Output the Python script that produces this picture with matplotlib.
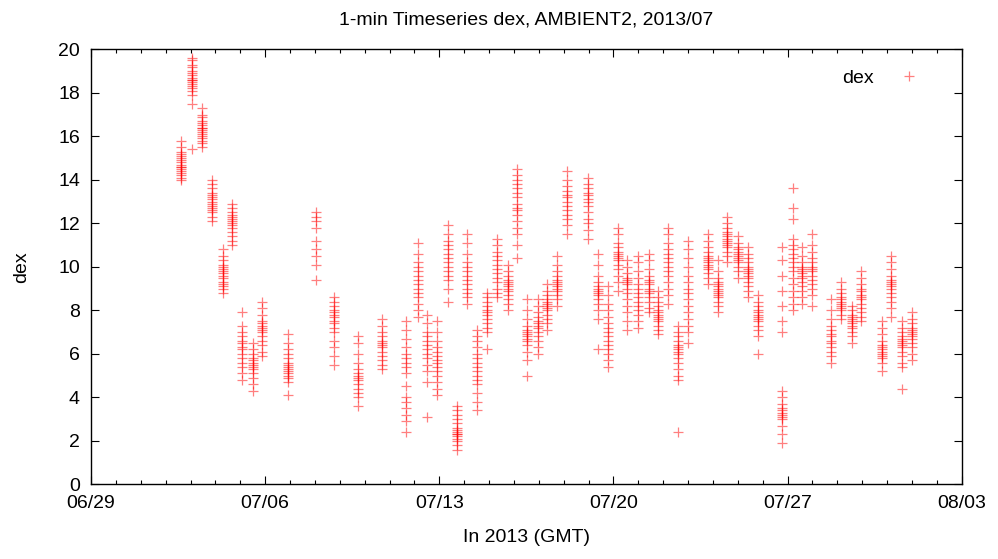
import matplotlib
matplotlib.use("Agg")
import matplotlib.pyplot as plt
import matplotlib.dates as mdates
import numpy as np
import pandas as pd

plt.rcParams['font.family'] = ['Liberation Sans', 'DejaVu Sans']

# start time (GMT) of each 1-min observation block
cluster_times = [
    "2013-07-02 15:00", "2013-07-03 01:00", "2013-07-03 11:00", "2013-07-03 21:00",
    "2013-07-04 07:00", "2013-07-04 16:00", "2013-07-05 02:00", "2013-07-05 12:00",
    "2013-07-05 21:00", "2013-07-06 22:00", "2013-07-08 01:00", "2013-07-08 18:00",
    "2013-07-09 18:00", "2013-07-10 17:00", "2013-07-11 16:00", "2013-07-12 03:00",
    "2013-07-12 12:00", "2013-07-12 22:00", "2013-07-13 08:00", "2013-07-13 17:00",
    "2013-07-14 03:00", "2013-07-14 12:00", "2013-07-14 22:00", "2013-07-15 08:00",
    "2013-07-15 18:00", "2013-07-16 03:00", "2013-07-16 13:00", "2013-07-16 23:00",
    "2013-07-17 08:00", "2013-07-17 18:00", "2013-07-18 03:00", "2013-07-18 23:00",
    "2013-07-19 09:00", "2013-07-19 19:00", "2013-07-20 04:00", "2013-07-20 13:00",
    "2013-07-21 00:00", "2013-07-21 10:00", "2013-07-21 19:00", "2013-07-22 05:00",
    "2013-07-22 14:00", "2013-07-23 00:00", "2013-07-23 19:00", "2013-07-24 05:00",
    "2013-07-24 14:00", "2013-07-25 00:00", "2013-07-25 10:00", "2013-07-25 19:00",
    "2013-07-26 19:00", "2013-07-27 05:00", "2013-07-27 14:00", "2013-07-28 00:00",
    "2013-07-28 18:00", "2013-07-29 04:00", "2013-07-29 14:00", "2013-07-29 23:00",
    "2013-07-30 19:00", "2013-07-31 04:00", "2013-07-31 14:00", "2013-08-01 00:00",
]

# dex values of each block
cluster_values = [
    [15.8, 15.5, 15.3, 15.2, 15.1, 15.0, 14.9, 14.8, 14.7, 14.6, 14.6, 14.5, 14.4, 14.3, 14.2, 14.1, 14.0],
    [19.6, 19.5, 19.3, 19.2, 19.0, 18.9, 18.8, 18.7, 18.6, 18.6, 18.5, 18.4, 18.3, 18.2, 18.1, 17.9, 17.5, 15.4],
    [17.3, 17.0, 16.9, 16.7, 16.6, 16.5, 16.4, 16.4, 16.3, 16.2, 16.1, 16.0, 15.9, 15.8, 15.7, 15.5],
    [14.0, 13.8, 13.6, 13.4, 13.3, 13.2, 13.1, 13.0, 12.9, 12.8, 12.7, 12.6, 12.5, 12.3, 12.1],
    [10.8, 10.5, 10.3, 10.1, 10.0, 9.9, 9.8, 9.7, 9.6, 9.5, 9.3, 9.2, 9.1, 9.0, 8.8],
    [12.9, 12.7, 12.5, 12.4, 12.3, 12.2, 12.1, 12.0, 11.9, 11.8, 11.6, 11.4, 11.2, 11.0],
    [7.9, 7.3, 7.0, 6.8, 6.6, 6.5, 6.3, 6.2, 6.0, 5.8, 5.6, 5.4, 5.1, 4.8],
    [6.5, 6.2, 6.0, 5.8, 5.7, 5.6, 5.5, 5.4, 5.3, 5.1, 4.9, 4.6, 4.3],
    [8.4, 8.1, 7.8, 7.5, 7.4, 7.3, 7.2, 7.1, 7.0, 6.8, 6.6, 6.4, 6.1, 5.9],
    [6.9, 6.5, 6.2, 6.0, 5.8, 5.6, 5.5, 5.4, 5.3, 5.2, 5.1, 5.0, 4.9, 4.7, 4.1],
    [12.5, 12.3, 12.1, 11.8, 11.2, 10.8, 10.5, 10.1, 9.4],
    [8.6, 8.4, 8.2, 8.0, 7.9, 7.8, 7.7, 7.5, 7.4, 7.2, 7.0, 6.6, 6.3, 5.9, 5.5],
    [6.8, 6.5, 6.0, 5.6, 5.3, 5.1, 5.0, 4.9, 4.8, 4.6, 4.4, 4.2, 4.0, 3.6],
    [7.6, 7.3, 7.0, 6.8, 6.6, 6.5, 6.4, 6.3, 6.1, 5.9, 5.7, 5.5, 5.3],
    [7.5, 7.1, 6.7, 6.3, 6.0, 5.8, 5.6, 5.4, 5.1, 4.5, 4.0, 3.8, 3.5, 3.2, 2.9, 2.4],
    [11.1, 10.6, 10.2, 10.0, 9.8, 9.6, 9.4, 9.2, 9.0, 8.8, 8.6, 8.3, 8.0, 7.7],
    [7.8, 7.4, 7.0, 6.8, 6.6, 6.4, 6.2, 6.0, 5.8, 5.5, 5.2, 4.7, 3.1],
    [7.5, 7.0, 6.6, 6.3, 6.1, 5.9, 5.7, 5.6, 5.4, 5.2, 5.0, 4.7, 4.4, 4.1],
    [11.9, 11.5, 11.2, 11.0, 10.8, 10.6, 10.4, 10.2, 10.0, 9.8, 9.6, 9.4, 9.0, 8.4],
    [3.6, 3.4, 3.2, 3.0, 2.8, 2.6, 2.5, 2.4, 2.3, 2.3, 2.2, 2.1, 2.0, 1.8, 1.6],
    [11.5, 11.1, 10.6, 10.2, 10.0, 9.8, 9.6, 9.4, 9.2, 9.0, 8.8, 8.6, 8.3],
    [7.1, 6.8, 6.6, 6.3, 6.0, 5.8, 5.6, 5.4, 5.2, 5.0, 4.8, 4.6, 4.2, 3.8, 3.4],
    [8.8, 8.6, 8.4, 8.2, 8.0, 7.9, 7.8, 7.6, 7.4, 7.2, 7.0, 6.2],
    [11.3, 11.0, 10.7, 10.5, 10.3, 10.1, 9.9, 9.7, 9.5, 9.3, 9.0, 8.8, 8.6],
    [10.1, 9.8, 9.6, 9.4, 9.3, 9.2, 9.1, 9.0, 8.9, 8.7, 8.5, 8.3, 8.0],
    [14.5, 14.2, 14.0, 13.8, 13.6, 13.4, 13.2, 12.9, 12.7, 12.6, 12.4, 12.1, 11.8, 11.5, 11.0, 10.4],
    [8.5, 8.0, 7.6, 7.3, 7.1, 7.0, 6.9, 6.8, 6.7, 6.6, 6.4, 6.1, 5.7, 5.0],
    [8.5, 8.2, 7.9, 7.7, 7.5, 7.4, 7.3, 7.2, 7.0, 6.8, 6.6, 6.3, 6.0],
    [9.2, 8.9, 8.7, 8.5, 8.4, 8.3, 8.2, 8.1, 8.0, 7.8, 7.6, 7.4, 7.1],
    [10.5, 10.1, 9.8, 9.6, 9.4, 9.3, 9.2, 9.1, 9.0, 8.9, 8.7, 8.5, 8.2],
    [14.4, 14.0, 13.7, 13.5, 13.3, 13.2, 13.0, 12.8, 12.6, 12.4, 12.2, 11.9, 11.5],
    [14.1, 13.8, 13.6, 13.4, 13.3, 13.1, 13.0, 12.8, 12.5, 12.2, 12.0, 11.7, 11.3],
    [10.6, 10.1, 9.6, 9.3, 9.1, 9.0, 8.9, 8.8, 8.7, 8.5, 8.3, 8.0, 7.6, 6.2],
    [9.1, 8.7, 8.3, 8.0, 7.7, 7.4, 7.2, 7.0, 6.8, 6.6, 6.4, 6.2, 6.0, 5.7, 5.4],
    [11.8, 11.5, 11.1, 10.9, 10.7, 10.6, 10.5, 10.4, 10.3, 10.1, 9.9, 9.6, 9.3, 8.9],
    [10.3, 10.0, 9.7, 9.5, 9.4, 9.3, 9.2, 9.0, 8.8, 8.5, 8.2, 7.9, 7.5, 7.1],
    [10.5, 10.2, 9.8, 9.5, 9.2, 9.0, 8.8, 8.6, 8.4, 8.2, 8.0, 7.8, 7.5, 7.2],
    [10.6, 10.3, 9.9, 9.6, 9.4, 9.3, 9.2, 9.0, 8.9, 8.8, 8.6, 8.4, 8.1, 7.9],
    [8.9, 8.6, 8.4, 8.2, 8.0, 7.9, 7.8, 7.7, 7.6, 7.5, 7.3, 7.1, 6.9],
    [11.8, 11.5, 11.1, 10.8, 10.6, 10.4, 10.2, 10.0, 9.8, 9.6, 9.3, 9.0, 8.7, 8.3],
    [7.3, 7.0, 6.8, 6.6, 6.4, 6.3, 6.2, 6.1, 6.0, 5.8, 5.6, 5.3, 5.0, 4.8, 2.4],
    [11.2, 10.8, 10.4, 10.0, 9.6, 9.3, 9.0, 8.8, 8.5, 8.2, 7.9, 7.6, 7.3, 7.0, 6.5],
    [11.5, 11.2, 10.9, 10.7, 10.5, 10.4, 10.3, 10.2, 10.1, 10.0, 9.9, 9.7, 9.5, 9.2],
    [10.3, 9.8, 9.5, 9.3, 9.2, 9.1, 9.0, 8.9, 8.8, 8.7, 8.6, 8.4, 8.2, 7.9],
    [12.3, 12.0, 11.8, 11.6, 11.5, 11.4, 11.3, 11.2, 11.1, 11.0, 10.9, 10.7, 10.5, 10.2],
    [11.4, 11.1, 10.9, 10.8, 10.7, 10.6, 10.5, 10.4, 10.3, 10.2, 10.0, 9.8, 9.5],
    [10.9, 10.6, 10.4, 10.2, 10.0, 9.9, 9.8, 9.7, 9.6, 9.5, 9.3, 9.1, 8.9, 8.6],
    [8.7, 8.4, 8.2, 8.0, 7.9, 7.8, 7.7, 7.6, 7.5, 7.3, 7.1, 6.8, 6.0],
    [10.9, 10.3, 9.6, 8.9, 8.2, 7.5, 7.0, 4.3, 4.0, 3.7, 3.5, 3.4, 3.3, 3.2, 3.1, 3.0, 2.7, 2.3, 1.9],
    [13.6, 12.7, 12.2, 11.3, 11.0, 10.8, 10.6, 10.4, 10.2, 10.0, 9.8, 9.5, 9.2, 8.9, 8.6, 8.3, 8.0],
    [10.9, 10.5, 10.2, 10.0, 9.9, 9.8, 9.7, 9.6, 9.5, 9.3, 9.1, 8.9, 8.6, 8.3],
    [11.5, 11.0, 10.7, 10.4, 10.2, 10.0, 9.9, 9.8, 9.6, 9.4, 9.2, 9.0, 8.7, 8.2],
    [8.5, 8.0, 7.6, 7.3, 7.1, 6.9, 6.8, 6.6, 6.5, 6.3, 6.1, 5.9, 5.6],
    [9.3, 9.0, 8.8, 8.6, 8.5, 8.4, 8.3, 8.2, 8.1, 8.0, 7.8, 7.6],
    [8.2, 8.0, 7.8, 7.7, 7.6, 7.5, 7.4, 7.3, 7.2, 7.0, 6.8, 6.5],
    [9.8, 9.5, 9.2, 9.0, 8.9, 8.7, 8.6, 8.5, 8.3, 8.1, 7.9, 7.7, 7.5],
    [7.5, 7.2, 6.9, 6.6, 6.4, 6.3, 6.2, 6.1, 6.0, 5.9, 5.8, 5.6, 5.2],
    [10.5, 10.2, 9.9, 9.6, 9.4, 9.3, 9.2, 9.1, 9.0, 8.8, 8.6, 8.4, 8.1, 7.7],
    [7.5, 7.2, 7.0, 6.8, 6.7, 6.6, 6.5, 6.4, 6.3, 6.1, 5.9, 5.6, 5.4, 4.4],
    [7.9, 7.6, 7.4, 7.2, 7.1, 7.0, 6.9, 6.8, 6.7, 6.5, 6.3, 6.0, 5.7],
]

x = []
y = []
for t, vals in zip(cluster_times, cluster_values):
    for v in vals:
        x.append(pd.Timestamp(t))
        y.append(v)

fig = plt.figure(figsize=(9.98, 5.59), dpi=100)
ax = fig.add_axes([91 / 998, 74.7 / 559, 870.7 / 998, 435 / 559])

ax.plot(x, y, ls='none', marker='+', markersize=7.5, markeredgewidth=0.9,
        color=(1, 0, 0, 0.5), label='dex')

ax.set_xlim(pd.Timestamp("2013-06-29"), pd.Timestamp("2013-08-03"))
ax.set_ylim(0, 20)
ax.set_xticks(pd.date_range("2013-06-29", "2013-08-03", freq="7D"))
ax.xaxis.set_major_formatter(mdates.DateFormatter("%m/%d"))
ax.xaxis.set_minor_locator(mdates.DayLocator())
ax.set_yticks(np.arange(0, 21, 2))

ax.tick_params(which='both', direction='in', top=True, right=True,
               labelsize=14, pad=8, width=0.8)
ax.tick_params(which='major', length=6)
ax.tick_params(which='minor', length=3)
for s in ax.spines.values():
    s.set_linewidth(1.0)

ax.set_title("1-min Timeseries dex, AMBIENT2, 2013/07", fontsize=14, pad=18)
ax.set_xlabel("In 2013 (GMT)", fontsize=14, labelpad=12)
ax.set_ylabel("dex", fontsize=14, labelpad=20)

ax.legend(loc='upper right', bbox_to_anchor=(0.982, 0.995), frameon=False,
          markerfirst=False, fontsize=14, handletextpad=0.8)

fig.savefig("out.png", dpi=100)
